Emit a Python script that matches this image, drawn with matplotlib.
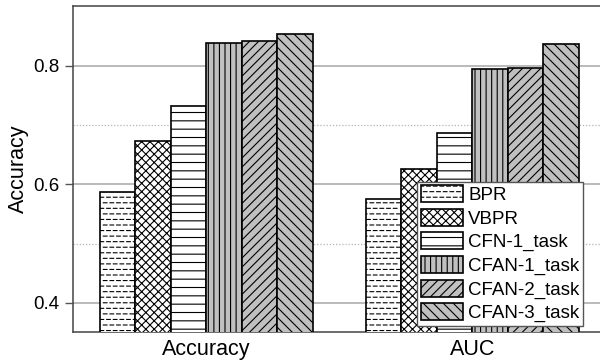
import warnings
import numpy as np
import matplotlib
matplotlib.use("Agg")
import matplotlib.pyplot as plt
from matplotlib import hatch as mhatch
from matplotlib.path import Path

warnings.filterwarnings("ignore")

# ---- data -------------------------------------------------------------
metrics = ["Accuracy", "AUC"]
methods = ["BPR", "VBPR", "CFN-1_task", "CFAN-1_task", "CFAN-2_task", "CFAN-3_task"]
bpr = [0.588, 0.575]
vbpr = [0.674, 0.626]
cfn_1 = [0.732, 0.687]
cfan_1 = [0.838, 0.795]
cfan_2 = [0.842, 0.797]
cfan_3 = [0.853, 0.837]
y_ticks = [0.4, 0.6, 0.8]
y_minor = [0.5, 0.7]


# ---- extra hatch patterns ----------------------------------------------
class DashedHorizontalHatch(mhatch.HatchPatternBase):
    """'=' : staggered rows of short horizontal dashes."""

    def __init__(self, hatch, density):
        self.rows = hatch.count("=") * 18
        self.dashes = 15
        self.num_lines = self.rows * self.dashes
        self.num_vertices = self.num_lines * 2

    def set_vertices_and_codes(self, vertices, codes):
        step = 1.0 / self.dashes
        k = 0
        for r in range(self.rows):
            y = (r + 0.5) / self.rows
            off = 0.0 if r % 2 == 0 else step * 0.5
            for d in range(self.dashes):
                x0 = d * step + off
                vertices[k] = (x0, y)
                vertices[k + 1] = (x0 + step * 0.55, y)
                codes[k] = Path.MOVETO
                codes[k + 1] = Path.LINETO
                k += 2


def diagonal_hatch(char, n_lines, rising):
    """Diagonal hatch with an arbitrary (even) number of lines per tile."""

    class _Diagonal(mhatch.HatchPatternBase):
        def __init__(self, hatch, density):
            self.num_lines = n_lines if char in hatch else 0
            self.num_vertices = (self.num_lines + 1) * 2 if self.num_lines else 0

        def set_vertices_and_codes(self, vertices, codes):
            steps = np.linspace(-0.5, 0.5, self.num_lines + 1)
            if rising:
                vertices[0::2, 0] = 0.0 + steps
                vertices[0::2, 1] = 0.0 - steps
                vertices[1::2, 0] = 1.0 + steps
                vertices[1::2, 1] = 1.0 - steps
            else:
                vertices[0::2, 0] = 0.0 + steps
                vertices[0::2, 1] = 1.0 + steps
                vertices[1::2, 0] = 1.0 + steps
                vertices[1::2, 1] = 0.0 + steps
            codes[0::2] = Path.MOVETO
            codes[1::2] = Path.LINETO

    return _Diagonal


mhatch._hatch_types.extend([
    DashedHorizontalHatch,
    diagonal_hatch("n", 22, True),
    diagonal_hatch("s", 20, False),
])

plt.rcParams["font.family"] = ["Liberation Sans", "DejaVu Sans"]
plt.rcParams["hatch.linewidth"] = 0.8
plt.rcParams["hatch.color"] = "black"

series = [bpr, vbpr, cfn_1, cfan_1, cfan_2, cfan_3]
faces = ["white", "white", "white", "#c0c0c0", "#c0c0c0", "#c0c0c0"]
hatches = ["=", "xxxx", "--", "|||", "n", "s"]

fig = plt.figure(figsize=(6.0, 3.62), dpi=100)
ax = fig.add_axes([73 / 600, 30 / 362, 527 / 600, 326 / 362])

x = np.arange(len(metrics))
width = 0.8 / len(methods)
for i, (vals, fc, h, name) in enumerate(zip(series, faces, hatches, methods)):
    ax.bar(x - 0.4 + width * (i + 0.5), vals, width, color=fc, edgecolor="black",
           linewidth=1.2, hatch=h, label=name, zorder=3)

ax.set_xlim(-0.5, 1.48)
ax.set_ylim(0.351, 0.901)
ax.set_xticks(x)
ax.set_xticklabels(metrics, fontsize=15.5)
ax.tick_params(axis="x", length=0, pad=5)
ax.set_yticks(y_ticks)
ax.set_yticklabels([f"{v:.1f}" for v in y_ticks], fontsize=13.5)
ax.set_yticks(y_minor, minor=True)
ax.tick_params(axis="y", which="major", length=5.5, width=1, color="#555555", pad=4)
ax.tick_params(axis="y", which="minor", length=0)
ax.set_ylabel("Accuracy", fontsize=15.5, labelpad=3)

ax.grid(axis="y", which="major", color="#b4b4b4", linewidth=1.3, zorder=0)
ax.grid(axis="y", which="minor", color="#b4b4b4", linewidth=0.9,
        linestyle=(0, (1, 1.5)), zorder=0)
ax.set_axisbelow(True)

for side in ("left", "bottom", "top"):
    ax.spines[side].set_color("#444444")
    ax.spines[side].set_linewidth(1.1)
ax.spines["right"].set_visible(False)

leg = ax.legend(loc="lower right", bbox_to_anchor=(0.968, 0.019), borderaxespad=0,
                fontsize=13.5, fancybox=False, framealpha=1, edgecolor="#555555",
                handlelength=2.25, handleheight=1.0, labelspacing=0.25,
                handletextpad=0.3, borderpad=0.18)
leg.get_frame().set_linewidth(1.0)

fig.savefig("out.png", dpi=100)
